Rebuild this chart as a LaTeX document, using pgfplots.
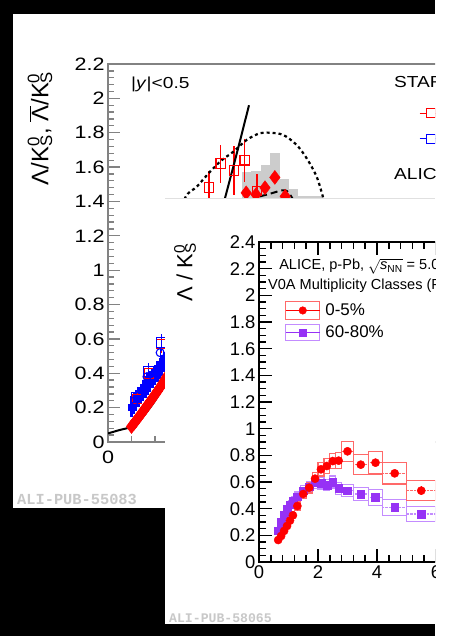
\documentclass[border=0pt]{standalone}
\usepackage{fontspec}
\setmainfont{Liberation Sans}
\newfontfamily\widefont{Liberation Sans}[FakeStretch=1.2]
\newfontfamily\tagfont{Liberation Mono}
\usepackage{pgfplots}
\usepackage{pgfplotstable}
\pgfplotsset{compat=1.18}

\definecolor{rootred}{RGB}{255,0,0}
\definecolor{rootblue}{RGB}{0,0,255}
\definecolor{syspink}{RGB}{255,105,105}
\definecolor{rootviolet}{RGB}{150,50,245}
\definecolor{sysviolet}{RGB}{195,140,255}
\definecolor{framegray}{RGB}{130,130,130}
\definecolor{boxgray}{RGB}{204,204,204}
\definecolor{taggray}{RGB}{200,200,200}

% ---------------- Pb-Pb panel -----------------
% ALICE 0-5% (filled diamonds) with systematic boxes
\pgfplotstableread{
x    xl    xh    y     sys
0.50 0.475 0.525 0.090 0.010
0.55 0.525 0.575 0.107 0.010
0.60 0.575 0.625 0.125 0.010
0.65 0.625 0.675 0.143 0.010
0.70 0.675 0.725 0.161 0.010
0.75 0.725 0.775 0.180 0.012
0.80 0.775 0.825 0.199 0.012
0.85 0.825 0.875 0.218 0.012
0.90 0.875 0.925 0.237 0.014
0.95 0.925 0.975 0.256 0.014
1.00 0.975 1.025 0.275 0.015
1.05 1.025 1.075 0.295 0.016
1.10 1.075 1.125 0.315 0.017
1.15 1.125 1.175 0.336 0.018
1.20 1.175 1.225 0.358 0.019
1.25 1.225 1.275 0.380 0.020
1.35 1.30  1.40  0.430 0.030
1.45 1.40  1.50  0.485 0.032
1.55 1.50  1.60  0.545 0.035
1.65 1.60  1.70  0.610 0.038
1.75 1.70  1.80  0.675 0.040
1.85 1.80  1.90  0.745 0.045
1.95 1.90  2.00  0.815 0.050
2.10 2.00  2.20  0.920 0.060
2.30 2.20  2.40  1.050 0.070
2.50 2.40  2.60  1.190 0.080
2.70 2.60  2.80  1.320 0.080
2.94 2.85  3.05  1.450 0.120
3.15 3.05  3.25  1.440 0.140
3.34 3.25  3.45  1.480 0.130
3.55 3.45  3.65  1.540 0.140
3.77 3.65  3.85  1.430 0.100
3.95 3.85  4.05  1.370 0.100
4.30 4.05  4.55  1.320 0.110
4.80 4.55  5.05  1.200 0.100
5.50 5.05  6.00  1.000 0.100
}\pbpbCentral

% ALICE peripheral (blue) with systematic boxes
\pgfplotstableread{
x    xl    xh    y     sys
0.50 0.475 0.525 0.205 0.060
0.55 0.525 0.575 0.224 0.060
0.60 0.575 0.625 0.242 0.060
0.65 0.625 0.675 0.261 0.060
0.70 0.675 0.725 0.279 0.060
0.75 0.725 0.775 0.298 0.060
0.80 0.775 0.825 0.316 0.060
0.85 0.825 0.875 0.335 0.060
0.90 0.875 0.925 0.353 0.060
0.95 0.925 0.975 0.372 0.060
1.00 0.975 1.025 0.390 0.060
1.05 1.025 1.075 0.409 0.060
1.10 1.075 1.125 0.428 0.060
1.15 1.125 1.175 0.447 0.060
1.20 1.175 1.225 0.466 0.060
1.25 1.225 1.275 0.485 0.060
1.35 1.30  1.40  0.525 0.060
1.50 1.40  1.60  0.580 0.060
1.70 1.60  1.80  0.640 0.060
1.90 1.80  2.00  0.695 0.060
2.20 2.00  2.40  0.750 0.060
2.60 2.40  2.80  0.775 0.065
3.00 2.80  3.20  0.760 0.065
3.50 3.20  3.80  0.700 0.065
4.25 3.80  4.70  0.600 0.060
5.50 4.70  6.30  0.450 0.060
}\pbpbPeripheral

% STAR Au-Au, open markers with errors
\pgfplotstableread{
x    y     err
0.62 0.25  0.040
0.87 0.40  0.050
1.14 0.57  0.050
1.40 0.78  0.070
1.65 1.00  0.080
1.90 1.22  0.090
2.15 1.48  0.100
2.40 1.62  0.110
2.68 1.58  0.140
2.91 1.64  0.125
3.17 1.46  0.100
3.60 1.25  0.120
}\starLambda
\pgfplotstableread{
x    y     err
0.61 0.26  0.045
0.86 0.41  0.050
1.13 0.58  0.050
1.40 0.72  0.070
1.65 0.85  0.080
1.90 0.95  0.090
2.15 1.02  0.100
2.40 1.05  0.120
}\starAntiLambda
\pgfplotstableread{
x    y     err
0.57 0.24  0.020
0.83 0.38  0.020
1.11 0.52  0.030
}\starCircles

% ---------------- p-Pb panel -----------------
\pgfplotstableread{
x    xl   xh   y     stat  sys
0.65 0.60 0.70 0.165 0.004 0.012
0.75 0.70 0.80 0.195 0.004 0.014
0.85 0.80 0.90 0.233 0.004 0.016
0.95 0.90 1.00 0.270 0.004 0.019
1.05 1.00 1.10 0.310 0.005 0.022
1.15 1.10 1.20 0.350 0.005 0.025
1.30 1.20 1.40 0.420 0.005 0.030
1.50 1.40 1.60 0.510 0.006 0.036
1.70 1.60 1.80 0.557 0.007 0.040
1.90 1.80 2.00 0.625 0.008 0.045
2.10 2.00 2.20 0.695 0.009 0.050
2.30 2.20 2.40 0.720 0.010 0.054
2.50 2.40 2.60 0.757 0.011 0.057
2.70 2.60 2.80 0.760 0.012 0.060
3.00 2.80 3.20 0.830 0.013 0.075
3.45 3.20 3.70 0.730 0.016 0.075
3.95 3.70 4.20 0.745 0.020 0.085
4.60 4.20 5.00 0.665 0.024 0.080
5.50 5.00 6.00 0.535 0.034 0.075
}\ppbCentral
\pgfplotstableread{
x    xl   xh   y     stat  sys
0.65 0.60 0.70 0.235 0.004 0.018
0.75 0.70 0.80 0.300 0.004 0.022
0.85 0.80 0.90 0.355 0.005 0.025
0.95 0.90 1.00 0.395 0.005 0.028
1.05 1.00 1.10 0.430 0.005 0.030
1.15 1.10 1.20 0.460 0.006 0.032
1.30 1.20 1.40 0.490 0.006 0.035
1.50 1.40 1.60 0.535 0.007 0.038
1.70 1.60 1.80 0.565 0.008 0.040
1.90 1.80 2.00 0.595 0.009 0.042
2.10 2.00 2.20 0.590 0.010 0.042
2.30 2.20 2.40 0.578 0.011 0.042
2.50 2.40 2.60 0.600 0.012 0.045
2.70 2.60 2.80 0.553 0.013 0.045
3.00 2.80 3.20 0.535 0.014 0.045
3.45 3.20 3.70 0.510 0.017 0.050
3.95 3.70 4.20 0.485 0.020 0.060
4.60 4.20 5.00 0.410 0.022 0.060
5.50 5.00 6.00 0.360 0.030 0.057
}\ppbPeripheral

% one rectangle per row: x from xl to xh, y +- sys
\newcommand{\sysboxes}[2]{%
  \pgfplotstablegetrowsof{#1}%
  \pgfmathtruncatemacro{\lastrow}{\pgfplotsretval-1}%
  \pgfplotsinvokeforeach{0,...,\lastrow}{%
    \pgfplotstablegetelem{##1}{xl}\of{#1}\let\bxl\pgfplotsretval
    \pgfplotstablegetelem{##1}{xh}\of{#1}\let\bxh\pgfplotsretval
    \pgfplotstablegetelem{##1}{y}\of{#1}\let\by\pgfplotsretval
    \pgfplotstablegetelem{##1}{sys}\of{#1}\let\bs\pgfplotsretval
    \pgfmathsetmacro{\blo}{\by-\bs}%
    \pgfmathsetmacro{\bhi}{\by+\bs}%
    \addplot[#2] coordinates {(\bxl,\blo) (\bxh,\blo) (\bxh,\bhi) (\bxl,\bhi)} -- cycle;
  }%
}

\begin{document}
\begin{tikzpicture}
\useasboundingbox (0bp,0bp) rectangle (452bp,636bp);
\fill[black] (0bp,0bp) rectangle (435bp,636bp);
\fill[white] (435bp,0bp) rectangle (452bp,636bp);

% ================= Pb-Pb figure =================
\fill[white] (13bp,128bp) rectangle (435bp,622bp);
\begin{scope}
\clip (13bp,128bp) rectangle (435bp,622bp);
\begin{axis}[
  at={(108bp,194bp)}, anchor=south west, scale only axis,
  width=376bp, height=378bp,
  xmin=0, xmax=8, ymin=0, ymax=2.2,
  xtick={0,2,4,6,8}, minor x tick num=3,
  ytick={0,0.2,...,2.2}, minor y tick num=4,
  xtick pos=left, ytick pos=left,
  tick align=inside,
  major tick length=12bp, minor tick length=6bp,
  axis line style={framegray, line width=1.3bp},
  tick style={framegray, line width=1.3bp},
  tick label style={font=\widefont\fontsize{18}{18}\selectfont},
  xticklabel style={yshift=-5bp},
  /pgf/number format/assume math mode=true,
  ylabel={Λ/K\rlap{\textsuperscript{0}}\textsubscript{S}, $\overline{\mbox{Λ}}$/K\rlap{\textsuperscript{0}}\textsubscript{S}},
  ylabel style={at={(axis description cs:-0.181,0.83)}, anchor=center, font=\fontsize{24}{24}\selectfont},
  legend cell align=left,
  legend style={at={(axis cs:6.617,1.96)}, anchor=north west, draw=none, fill=none,
    inner sep=0pt, row sep=10bp, font=\widefont\fontsize{16}{18}\selectfont,
    nodes={inner sep=0pt}, /tikz/every odd column/.append style={column sep=6bp}},
  legend image code/.code={%
    \draw[#1, line width=1.1bp] (-11bp,0bp) -- (11bp,0bp);
    \draw[#1, line width=1.1bp, fill=white] (-4.5bp,-4.5bp) rectangle (4.5bp,4.5bp);},
]
\addlegendimage{rootred}
\addlegendentry{Au-Au 0-5\%, Λ/K\rlap{\textsuperscript{0}}\textsubscript{S}}
\addlegendimage{rootblue}
\addlegendentry{Au-Au 0-5\%, $\overline{\mbox{Λ}}$/K\rlap{\textsuperscript{0}}\textsubscript{S}}

% systematic uncertainties
\sysboxes{\pbpbCentral}{fill=boxgray, draw=none}
\sysboxes{\pbpbPeripheral}{fill=rootblue, draw=none}

% ALICE points
\addplot[only marks, mark=square*, mark size=3bp, rootblue] table[x=x, y=y] {\pbpbPeripheral};
\addplot[only marks, mark=diamond*, mark size=7bp, rootred] table[x=x, y=y] {\pbpbCentral};

% STAR points
\addplot[only marks, mark=square, mark size=4.8bp, rootred, line width=1.1bp,
  error bars/.cd, y dir=both, y explicit, error mark=none,
  error bar style={rootred, line width=1.1bp}]
  table[x=x, y=y, y error=err] {\starLambda};
\addplot[only marks, mark=square, mark size=4.8bp, rootblue, line width=1.1bp,
  error bars/.cd, y dir=both, y explicit, error mark=none,
  error bar style={rootblue, line width=1.1bp}]
  table[x=x, y=y, y error=err] {\starAntiLambda};
\addplot[only marks, mark=o, mark size=4bp, rootblue, line width=1.1bp,
  error bars/.cd, y dir=both, y explicit, error mark=none,
  error bar style={rootblue, line width=1.1bp}]
  table[x=x, y=y, y error=err] {\starCircles};

% model curves
\addplot[black, line width=2bp, smooth] coordinates {
  (0,0.05) (0.25,0.07) (0.5,0.09) (0.75,0.15) (1.0,0.24) (1.25,0.36)
  (1.5,0.52) (1.75,0.71) (2.0,0.93) (2.25,1.17) (2.5,1.43) (2.75,1.69) (3.0,1.96)};
\addplot[black, line width=2.2bp, dash pattern=on 3bp off 3bp, smooth] coordinates {
  (1.25,0.90) (1.45,1.20) (1.64,1.42) (1.89,1.486) (2.17,1.573) (2.42,1.64)
  (2.67,1.69) (2.95,1.758) (3.23,1.797) (3.45,1.80) (3.73,1.787) (4.01,1.73)
  (4.23,1.65) (4.44,1.544) (4.58,1.42) (4.75,1.25)};
\addplot[black, line width=2bp, dash pattern=on 7bp off 4bp, smooth] coordinates {
  (2.6,1.25) (2.85,1.35) (3.1,1.415) (3.45,1.445) (3.77,1.465) (3.93,1.415) (4.15,1.30)};

\node[anchor=base west, inner sep=0, font=\widefont\fontsize{16}{16}\selectfont]
  at (axis cs:0.49,2.06) {|\textit{y}|<0.5};
\node[anchor=base west, inner sep=0, font=\widefont\fontsize{16}{16}\selectfont]
  at (axis cs:6.085,2.065) {STAR};
\node[anchor=base west, inner sep=0, font=\widefont\fontsize{16}{16}\selectfont]
  at (axis cs:6.085,1.529) {ALICE};
\end{axis}
\node[anchor=west, inner sep=0, text=taggray, font=\tagfont\bfseries\fontsize{15.4}{16}\selectfont]
  at (17bp,137bp) {ALI-PUB-55083};
\end{scope}

% ================= p-Pb figure =================
\fill[white] (165bp,12bp) rectangle (435bp,438bp);
\draw[black!12, line width=0.8bp] (165bp,438bp) -- (435bp,438bp);
\begin{scope}
\clip (165bp,12bp) rectangle (435bp,438bp);
\begin{axis}[
  at={(259bp,74bp)}, anchor=south west, scale only axis,
  width=236bp, height=320bp,
  xmin=0, xmax=8, ymin=0, ymax=2.4,
  xtick={0,2,4,6,8}, minor x tick num=4,
  ytick={0,0.2,...,2.4}, minor y tick num=3,
  tick align=inside,
  major tick length=13bp, minor tick length=7bp,
  axis line style={black, line width=1.8bp},
  tick style={black, line width=1.5bp},
  tick label style={font=\fontsize{18.5}{18.5}\selectfont},
  /pgf/number format/assume math mode=true,
  ylabel={Λ / K\rlap{\textsuperscript{0}}\textsubscript{S}},
  ylabel style={at={(axis description cs:-0.313,0.906)}, anchor=center, font=\fontsize{22}{22}\selectfont},
  legend cell align=left,
  legend style={at={(axis cs:0.88,1.96)}, anchor=north west, draw=none, fill=none,
    inner sep=0pt, row sep=4bp, font=\fontsize{17}{18}\selectfont,
    nodes={inner sep=0pt}, /tikz/every odd column/.append style={column sep=5bp}},
]
\addlegendimage{legend image code/.code={%
  \draw[syspink, line width=1.2bp] (0bp,-9bp) rectangle (34bp,9bp);
  \draw[rootred, line width=1.2bp] (0bp,0bp) -- (34bp,0bp);
  \path plot[mark=*, mark size=3.8bp, mark options={fill=rootred, draw=rootred}] coordinates {(17bp,0bp)};}}
\addlegendentry{0-5\%}
\addlegendimage{legend image code/.code={%
  \draw[sysviolet, line width=1.2bp] (0bp,-8bp) rectangle (34bp,8bp);
  \draw[rootviolet, line width=1.2bp] (0bp,0bp) -- (34bp,0bp);
  \path plot[mark=square*, mark size=3.8bp, mark options={fill=rootviolet, draw=rootviolet}] coordinates {(17bp,0bp)};}}
\addlegendentry{60-80\%}

% 60-80%
\sysboxes{\ppbPeripheral}{draw=sysviolet, line width=1.2bp}
\addplot[draw=none, mark=none,
  error bars/.cd, x dir=both, x explicit, error mark=none,
  error bar style={sysviolet, densely dotted, line width=1.3bp}]
  table[x=x, y=y, x error plus expr=\thisrow{xh}-\thisrow{x}, x error minus expr=\thisrow{x}-\thisrow{xl}] {\ppbPeripheral};
\addplot[only marks, mark=square*, mark size=3.9bp, rootviolet,
  error bars/.cd, y dir=both, y explicit, error mark=none,
  error bar style={rootviolet, line width=1.2bp}]
  table[x=x, y=y, y error=stat] {\ppbPeripheral};

% 0-5%
\sysboxes{\ppbCentral}{draw=syspink, line width=1.2bp}
\addplot[draw=none, mark=none,
  error bars/.cd, x dir=both, x explicit, error mark=none,
  error bar style={syspink, densely dotted, line width=1.3bp}]
  table[x=x, y=y, x error plus expr=\thisrow{xh}-\thisrow{x}, x error minus expr=\thisrow{x}-\thisrow{xl}] {\ppbCentral};
\addplot[only marks, mark=*, mark size=4.1bp, rootred,
  error bars/.cd, y dir=both, y explicit, error mark=none,
  error bar style={rootred, line width=1.2bp}]
  table[x=x, y=y, y error=stat] {\ppbCentral};

\node[anchor=base west, inner sep=0, font=\fontsize{14.6}{16}\selectfont]
  at (axis cs:0.68,2.19) {ALICE, p-Pb, $\sqrt{\mbox{\textit{s}\textsubscript{NN}}}$ = 5.02 TeV};
\node[anchor=base west, inner sep=0, font=\fontsize{14.6}{16}\selectfont]
  at (axis cs:0.305,2.04) {V0A Multiplicity Classes (Pb-side)};
\end{axis}
\node[anchor=west, inner sep=0, text=taggray, font=\tagfont\bfseries\fontsize{13.2}{14}\selectfont]
  at (169bp,18bp) {ALI-PUB-58065};
\end{scope}
\end{tikzpicture}
\end{document}
